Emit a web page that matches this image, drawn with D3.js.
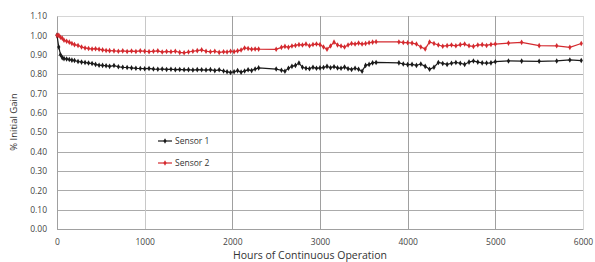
<!DOCTYPE html>
<html>
<head>
<meta charset="utf-8">
<script src="https://cdn.jsdelivr.net/npm/d3@7"></script>
<style>
  body { margin: 0; background: #fff; }
  svg { display: block; font-family: "Open Sans", sans-serif; }
</style>
</head>
<body>
<script>
// hours of operation (shared by both sensors)
const hours = [0, 20, 40, 60, 80, 110, 140, 170, 200, 240, 280, 320, 360, 400, 440, 480, 520, 560, 600, 650,
  700, 750, 800, 850, 900, 950, 1000, 1050, 1100, 1150, 1200, 1250, 1300, 1350, 1400, 1450, 1500, 1550, 1600, 1650,
  1700, 1750, 1800, 1850, 1900, 1940, 1980, 2020, 2060, 2100, 2140, 2180, 2220, 2260, 2300, 2500, 2560, 2600, 2640, 2680,
  2720, 2760, 2800, 2840, 2880, 2920, 2960, 3000, 3040, 3080, 3120, 3160, 3200, 3240, 3280, 3320, 3360, 3400, 3440, 3480,
  3520, 3560, 3600, 3640, 3900, 3950, 4000, 4050, 4100, 4150, 4200, 4250, 4300, 4350, 4400, 4450, 4500, 4550, 4600, 4650,
  4700, 4750, 4800, 4850, 4900, 4950, 5000, 5150, 5300, 5500, 5700, 5850, 5980];

const sensor1 = [1.00, 0.94, 0.90, 0.885, 0.88, 0.878, 0.875, 0.872, 0.87, 0.865, 0.862, 0.86, 0.857, 0.855, 0.85, 0.846, 0.845, 0.843, 0.84, 0.844,
  0.838, 0.835, 0.834, 0.832, 0.83, 0.829, 0.828, 0.829, 0.826, 0.825, 0.826, 0.824, 0.825, 0.823, 0.824, 0.822, 0.823, 0.821, 0.823, 0.822,
  0.821, 0.823, 0.818, 0.822, 0.816, 0.812, 0.808, 0.812, 0.818, 0.81, 0.816, 0.822, 0.818, 0.826, 0.832, 0.826, 0.82, 0.815, 0.83, 0.84,
  0.845, 0.857, 0.835, 0.83, 0.828, 0.835, 0.83, 0.832, 0.834, 0.84, 0.833, 0.838, 0.832, 0.83, 0.836, 0.828, 0.824, 0.83, 0.825, 0.815,
  0.845, 0.85, 0.858, 0.86, 0.858, 0.852, 0.849, 0.85, 0.845, 0.852, 0.84, 0.825, 0.835, 0.86, 0.855, 0.85, 0.856, 0.86, 0.856, 0.85,
  0.862, 0.868, 0.862, 0.858, 0.857, 0.858, 0.864, 0.868, 0.867, 0.866, 0.868, 0.873, 0.87];

const sensor2 = [1.00, 1.00, 0.99, 0.985, 0.975, 0.97, 0.965, 0.958, 0.952, 0.948, 0.94, 0.935, 0.932, 0.93, 0.931, 0.928, 0.925, 0.922, 0.921, 0.92,
  0.918, 0.92, 0.917, 0.919, 0.917, 0.92, 0.918, 0.916, 0.918, 0.92, 0.914, 0.917, 0.915, 0.918, 0.912, 0.91, 0.914, 0.918, 0.921, 0.925,
  0.918, 0.915, 0.918, 0.912, 0.915, 0.914, 0.918, 0.916, 0.92, 0.924, 0.935, 0.932, 0.928, 0.93, 0.929, 0.928, 0.938, 0.943, 0.938, 0.945,
  0.948, 0.952, 0.95, 0.955, 0.946, 0.953, 0.955, 0.952, 0.94, 0.928, 0.945, 0.965, 0.95, 0.945, 0.94, 0.95, 0.958, 0.955, 0.96, 0.955,
  0.958, 0.962, 0.965, 0.967, 0.966, 0.963, 0.962, 0.96, 0.955, 0.94, 0.93, 0.966, 0.958, 0.95, 0.944, 0.947, 0.95, 0.946, 0.952, 0.955,
  0.946, 0.943, 0.95, 0.952, 0.948, 0.953, 0.955, 0.96, 0.964, 0.947, 0.946, 0.938, 0.958];

const seriesNames = ["Sensor 1", "Sensor 2"];
const seriesColors = ["#1a1a1a", "#d42a2f"];
const xTicks = [0, 1000, 2000, 3000, 4000, 5000, 6000];
const yTicks = [0, 0.1, 0.2, 0.3, 0.4, 0.5, 0.6, 0.7, 0.8, 0.9, 1.0, 1.1];

const width = 595, height = 262;
const margin = {top: 16, right: 12, bottom: 33, left: 57};
const iw = width - margin.left - margin.right;
const ih = height - margin.top - margin.bottom;

const svg = d3.select("body").append("svg")
    .attr("width", width)
    .attr("height", height);

const g = svg.append("g").attr("transform", `translate(${margin.left},${margin.top})`);

const x = d3.scaleLinear().domain([0, 6000]).range([0, iw]);
const y = d3.scaleLinear().domain([0, 1.1]).range([ih, 0]);

// grid
g.append("g").selectAll("line").data(yTicks).enter().append("line")
    .attr("x1", 0).attr("x2", iw)
    .attr("y1", d => Math.round(y(d)) + 0.5).attr("y2", d => Math.round(y(d)) + 0.5)
    .attr("stroke", d => d === 1.1 ? "#d6d6d6" : "#ababab");
g.append("g").selectAll("line").data(xTicks.slice(1)).enter().append("line")
    .attr("y1", 0).attr("y2", ih)
    .attr("x1", d => Math.round(x(d)) + 0.5).attr("x2", d => Math.round(x(d)) + 0.5)
    .attr("stroke", d => d === 6000 ? "#d6d6d6" : (d === 1000 ? "#c8c8c8" : "#a0a0a0"));

// axes
const xAxis = g.append("g").attr("transform", `translate(0,${ih})`)
    .call(d3.axisBottom(x).tickValues(xTicks).tickFormat(d3.format("d")).tickSize(0).tickPadding(10));
const yAxis = g.append("g")
    .call(d3.axisLeft(y).tickValues(yTicks).tickFormat(d3.format(".2f")).tickSize(0).tickPadding(10));
[xAxis, yAxis].forEach(a => {
  a.select(".domain").attr("stroke", "#a0a0a0");
  a.selectAll("text").attr("font-size", 8.5).attr("fill", "#444").attr("font-family", "Open Sans, sans-serif");
});

// series
const series = [sensor1, sensor2];
const line = d3.line().x((d, i) => x(hours[i])).y(d => y(d));
series.forEach((vals, k) => {
  g.append("path")
      .datum(vals)
      .attr("fill", "none")
      .attr("stroke", seriesColors[k])
      .attr("stroke-width", 1.2)
      .attr("d", line);
  g.append("g").selectAll("path").data(vals).enter().append("path")
      .attr("d", d3.symbol(d3.symbolDiamond, 9))
      .attr("transform", (d, i) => `translate(${x(hours[i])},${y(d)})`)
      .attr("fill", seriesColors[k]);
});

// legend
const legend = g.append("g").attr("transform", `translate(${158 - margin.left},${141 - margin.top})`);
seriesNames.forEach((name, k) => {
  const row = legend.append("g").attr("transform", `translate(0,${k * 22})`);
  row.append("line").attr("x1", 0).attr("x2", 14).attr("y1", 0).attr("y2", 0)
      .attr("stroke", seriesColors[k]).attr("stroke-width", 1.2);
  row.append("path").attr("d", d3.symbol(d3.symbolDiamond, 9)).attr("transform", "translate(7,0)")
      .attr("fill", seriesColors[k]);
  row.append("text").attr("x", 17).attr("y", 3).text(name)
      .attr("font-size", 8.5).attr("fill", "#333");
});

// axis titles
svg.append("text")
    .attr("x", margin.left + iw / 2 - 10).attr("y", 259)
    .attr("text-anchor", "middle")
    .attr("font-size", 10.5).attr("fill", "#333")
    .text("Hours of Continuous Operation");
svg.append("text")
    .attr("transform", "translate(17,122) rotate(-90)")
    .attr("text-anchor", "middle")
    .attr("font-size", 9.5).attr("fill", "#333")
    .text("% Initial Gain");
</script>
</body>
</html>
